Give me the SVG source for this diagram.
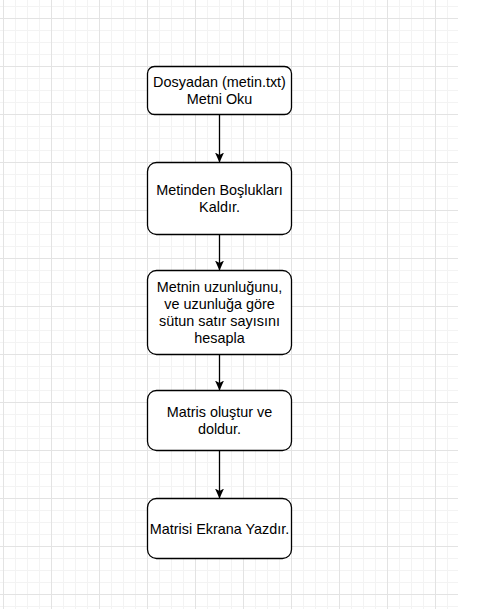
<svg xmlns="http://www.w3.org/2000/svg" width="481" height="609" viewBox="0 0 481 609">
<defs>
<pattern id="minor" x="3" y="6" width="12" height="12" patternUnits="userSpaceOnUse">
<path d="M0.5 0V12M0 0.5H12" stroke="#f3f3f3" stroke-width="1" fill="none"/>
</pattern>
<pattern id="major" x="3" y="18" width="48" height="48" patternUnits="userSpaceOnUse">
<path d="M0.5 0V48M0 0.5H48" stroke="#e3e3e3" stroke-width="1" fill="none"/>
</pattern>
<marker id="arr" markerWidth="10" markerHeight="10" viewBox="0 0 10 10" refX="10" refY="5" orient="auto" markerUnits="userSpaceOnUse">
<path d="M0 0.5L10 5L0 9.5L2.5 5Z" fill="#000"/>
</marker>
</defs>
<style>
.box{fill:#fff;stroke:#000;stroke-width:1.3}
.t{font-family:"Liberation Sans",Arial,sans-serif;font-size:14.4px;fill:#000;text-anchor:middle}
.c{stroke:#000;stroke-width:1.3;fill:none;marker-end:url(#arr)}
</style>
<rect width="481" height="609" fill="#fff"/>
<rect x="0" y="0" width="458" height="609" fill="url(#minor)"/>
<rect x="0" y="0" width="458" height="609" fill="url(#major)"/>
<g id="connectors">
<path class="c" d="M219.5 114.5V162.5"/>
<path class="c" d="M219.5 234.5V270.5"/>
<path class="c" d="M219.5 354.5V390.5"/>
<path class="c" d="M219.5 450.5V498.5"/>
</g>
<g id="n1">
<rect class="box" x="147.5" y="66.5" width="144" height="48" rx="7"/>
<text class="t" x="219.5" y="86.9">Dosyadan (metin.txt)</text>
<text class="t" x="219.5" y="104.2">Metni Oku</text>
</g>
<g id="n2">
<rect class="box" x="147.5" y="162.5" width="144" height="72" rx="9"/>
<text class="t" x="219.5" y="194.9">Metinden Boşlukları</text>
<text class="t" x="219.5" y="212.2">Kaldır.</text>
</g>
<g id="n3">
<rect class="box" x="147.5" y="270.5" width="144" height="84" rx="9"/>
<text class="t" x="219.5" y="291.6">Metnin uzunluğunu,</text>
<text class="t" x="219.5" y="308.9">ve uzunluğa göre</text>
<text class="t" x="219.5" y="326.1">sütun satır sayısını</text>
<text class="t" x="219.5" y="343.4">hesapla</text>
</g>
<g id="n4">
<rect class="box" x="147.5" y="390.5" width="144" height="60" rx="9"/>
<text class="t" x="219.5" y="416.9">Matris oluştur ve</text>
<text class="t" x="219.5" y="434.2">doldur.</text>
</g>
<g id="n5">
<rect class="box" x="147.5" y="498.5" width="144" height="60" rx="9"/>
<text class="t" x="219.5" y="533.5">Matrisi Ekrana Yazdır.</text>
</g>
</svg>
